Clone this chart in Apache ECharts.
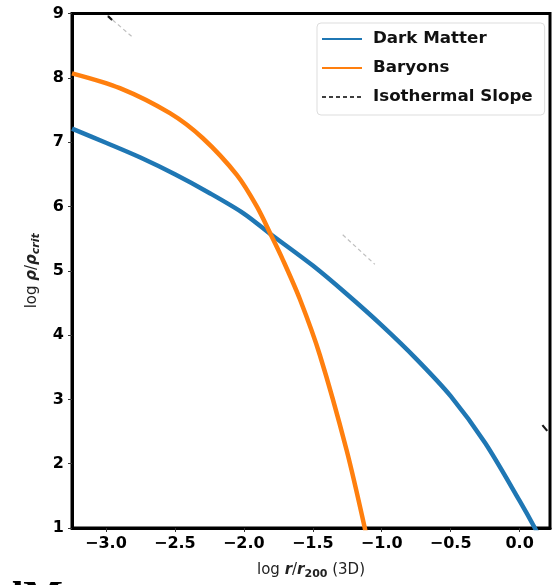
<!DOCTYPE html>
<html lang="en">

<head>
    <meta charset="UTF-8">
    <title>Density profiles</title>
    <style>
        * {
            margin: 0;
            padding: 0;
        }

        #chart {
            width: 552px;
            height: 585px;
        }
    </style>
</head>

<body>
    <div id="chart"></div>

    <script src="https://cdn.jsdelivr.net/npm/echarts@6/dist/echarts.min.js"></script>
    <script>
        // values (log r/r200, log rho/rho_crit)
        var darkX = [-3.246, -3.0, -2.75, -2.5, -2.25, -2.0, -1.8, -1.5, -1.25, -1.0, -0.75, -0.5, -0.25, 0.0, 0.11, 0.22];
        var darkY = [7.21, 6.99, 6.76, 6.50, 6.21, 5.89, 5.56, 5.08, 4.63, 4.15, 3.63, 3.05, 2.32, 1.42, 1.0, 0.55];

        var baryX = [-3.246, -2.899, -2.536, -2.297, -2.051, -1.906, -1.797, -1.717, -1.594, -1.449, -1.256, -1.123, -1.05];
        var baryY = [8.07, 7.84, 7.45, 7.06, 6.49, 6.00, 5.53, 5.17, 4.56, 3.69, 2.22, 1.0, 0.23];

        // faint pieces of the isothermal slope line that show through
        var isoFaintX = [-2.99, -2.80, null, -1.283, -1.05];
        var isoFaintY = [8.97, 8.62, null, 5.56, 5.10];
        var isoDarkX = [-2.985, -2.955, null, 0.165, 0.20];
        var isoDarkY = [8.96, 8.90, null, 2.60, 2.51];

        var xTicks = [-3.0, -2.5, -2.0, -1.5, -1.0, -0.5, 0.0];

        function pairs(xs, ys) {
            return xs.map(function (x, i) {
                return x === null ? [null, null] : [x, ys[i]];
            });
        }

        var chart = echarts.init(document.getElementById('chart'));
        var tickFont = {
            fontFamily: 'DejaVu Sans',
            fontWeight: 'bold',
            fontSize: 16,
            color: '#000'
        };
        var nameRich = {
            n: { fontFamily: 'DejaVu Sans', fontSize: 15, color: '#222', lineHeight: 20 },
            b: { fontFamily: 'DejaVu Sans', fontSize: 15, fontWeight: 'bold', fontStyle: 'italic', color: '#222', lineHeight: 20 },
            s: { fontFamily: 'DejaVu Sans', fontSize: 11, fontWeight: 'bold', fontStyle: 'italic', color: '#222', verticalAlign: 'top', padding: [9, 0, 0, 0], lineHeight: 12 },
            s2: { fontFamily: 'DejaVu Sans', fontSize: 11, fontWeight: 'bold', color: '#222', verticalAlign: 'top', padding: [9, 0, 0, 0], lineHeight: 12 }
        };

        var option = {
            animation: false,
            backgroundColor: '#fff',
            grid: {
                left: 72,
                right: 2,
                top: 13.5,
                bottom: 56,
                show: true,
                borderColor: '#000',
                borderWidth: 3,
                backgroundColor: 'transparent'
            },
            legend: {
                orient: 'vertical',
                left: 317,
                top: 23,
                padding: [7, 12, 9, 4],
                itemGap: 11,
                itemWidth: 40,
                itemHeight: 14,
                backgroundColor: '#fff',
                borderColor: '#ddd',
                borderWidth: 1,
                borderRadius: 4,
                itemStyle: { opacity: 0 },
                textStyle: {
                    fontFamily: 'DejaVu Sans',
                    fontWeight: 'bold',
                    fontSize: 16.7,
                    lineHeight: 18,
                    color: '#111',
                    padding: [0, 0, 0, 6]
                },
                data: [
                    'Dark Matter',
                    'Baryons',
                    { name: 'Isothermal Slope', lineStyle: { opacity: 1, type: [4, 3], width: 1.5, color: '#000' } }
                ]
            },
            xAxis: {
                type: 'value',
                min: -3.246,
                max: 0.22,
                name: '{n|log }{b|r}{n|/}{b|r}{s2|200}{n| (3D)}',
                nameLocation: 'middle',
                nameGap: 32,
                nameTextStyle: { rich: nameRich },
                splitLine: { show: false },
                axisLine: { onZero: false, lineStyle: { color: '#000', width: 3 } },
                axisTick: {
                    customValues: xTicks,
                    length: 4,
                    lineStyle: { color: '#333', width: 1 }
                },
                axisLabel: Object.assign({
                    customValues: xTicks,
                    margin: 8,
                    formatter: function (v) {
                        return v.toFixed(1).replace('-', '\u2212');
                    }
                }, tickFont)
            },
            yAxis: {
                type: 'value',
                min: 1,
                max: 9,
                interval: 1,
                name: '{n|log }{b|\u03c1}{n|/}{b|\u03c1}{s|crit}',
                nameLocation: 'middle',
                nameGap: 29,
                nameTextStyle: { rich: nameRich },
                splitLine: { show: false },
                axisLine: { onZero: false, lineStyle: { color: '#000', width: 3 } },
                axisTick: { length: 4, lineStyle: { color: '#333', width: 1 } },
                axisLabel: Object.assign({ margin: 8 }, tickFont)
            },
            series: [
                {
                    name: 'Dark Matter',
                    type: 'line',
                    data: pairs(darkX, darkY),
                    smooth: 0.3,
                    showSymbol: false,
                    symbol: 'none',
                    lineStyle: { color: '#1f77b4', width: 4.5 },
                    itemStyle: { color: '#1f77b4' },
                    z: 3
                },
                {
                    name: 'Baryons',
                    type: 'line',
                    data: pairs(baryX, baryY),
                    smooth: 0.3,
                    showSymbol: false,
                    symbol: 'none',
                    lineStyle: { color: '#ff7f0e', width: 4.5 },
                    itemStyle: { color: '#ff7f0e' },
                    z: 4
                },
                {
                    name: 'Isothermal Slope',
                    type: 'line',
                    data: pairs(isoFaintX, isoFaintY),
                    connectNulls: false,
                    showSymbol: false,
                    symbol: 'none',
                    lineStyle: { color: '#000', width: 1.2, type: [4, 3], opacity: 0.25 },
                    itemStyle: { color: '#000' }
                },
                {
                    name: 'Isothermal Slope',
                    type: 'line',
                    data: pairs(isoDarkX, isoDarkY),
                    connectNulls: false,
                    showSymbol: false,
                    symbol: 'none',
                    lineStyle: { color: '#000', width: 2.2, opacity: 0.9 },
                    itemStyle: { color: '#000' }
                }
            ],
            graphic: [
                {
                    type: 'text',
                    left: 0,
                    top: 578,
                    style: {
                        text: 'dM',
                        font: 'bold 42px "Liberation Serif"',
                        fill: '#000'
                    }
                }
            ]
        };

        chart.setOption(option);
    </script>
</body>

</html>
